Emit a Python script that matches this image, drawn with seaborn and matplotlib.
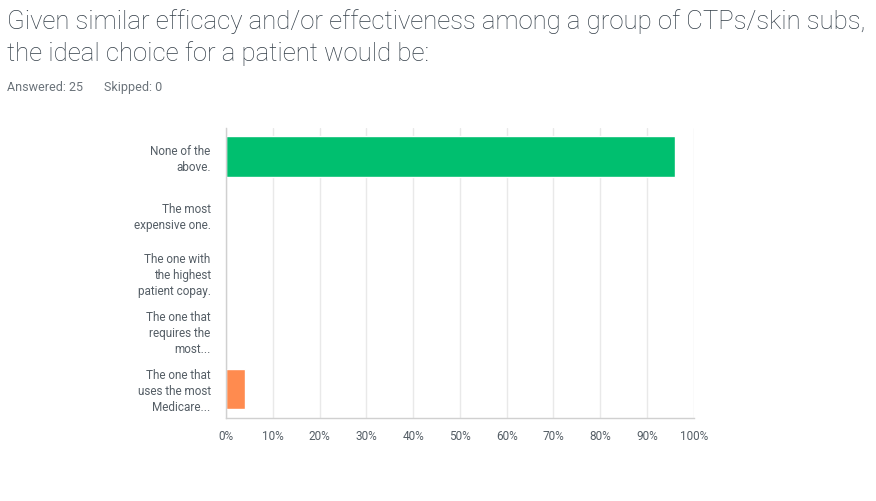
import pandas as pd
import seaborn as sns
import matplotlib.pyplot as plt
from matplotlib.ticker import PercentFormatter

# Antwortoptionen und Anteile (24 von 25 bzw. 1 von 25)
categories = [
    "None of the\nabove.",
    "The most\nexpensive one.",
    "The one with\nthe highest\npatient copay.",
    "The one that\nrequires the\nmost...",
    "The one that\nuses the most\nMedicare...",
]
shares = [96, 0, 0, 0, 4]
colors = ["#00bf6f", "#6bc8cd", "#a05fa4", "#f4ce2f", "#ff8b4f"]
xticks = list(range(0, 101, 10))

df = pd.DataFrame({"choice": categories, "share": shares})

sns.set_theme(style="white")
plt.rcParams["font.family"] = ["Roboto", "DejaVu Sans"]

fig = plt.figure(figsize=(8.76, 5.01), dpi=100)
ax = fig.add_axes([0.258, 0.166, 0.534, 0.579])

sns.barplot(data=df, x="share", y="choice", hue="choice", palette=colors,
            legend=False, width=0.7, orient="h", ax=ax, saturation=1)

ax.set_xlim(0, 100)
ax.set_xticks(xticks)
ax.xaxis.set_major_formatter(PercentFormatter(decimals=0))
ax.grid(axis="x", color="#e9e9e9", linewidth=1)
ax.set_axisbelow(True)
ax.set_xlabel("")
ax.set_ylabel("")
for s in ["top", "right"]:
    ax.spines[s].set_visible(False)
for s in ["left", "bottom"]:
    ax.spines[s].set_color("#d0d0d0")
    ax.spines[s].set_linewidth(1)
ax.tick_params(axis="x", length=0, labelsize=8.5, labelcolor="#555e66", pad=9)
ax.tick_params(axis="y", length=0, labelsize=8.5, labelcolor="#555e66", pad=11)
for lab in ax.get_yticklabels():
    lab.set_horizontalalignment("right")
    lab.set_multialignment("right")
    lab.set_linespacing(1.3)

fig.text(0.008, 0.982, "Given similar efficacy and/or effectiveness among a group of CTPs/skin subs,\nthe ideal choice for a patient would be:",
         fontsize=18.5, color="#333e48", va="top", ha="left", fontweight="light", linespacing=1.35)
fig.text(0.008, 0.825, "Answered: 25", fontsize=9, color="#6b737a", va="center", ha="left")
fig.text(0.119, 0.825, "Skipped: 0", fontsize=9, color="#6b737a", va="center", ha="left")

plt.savefig("out.png", dpi=100)
